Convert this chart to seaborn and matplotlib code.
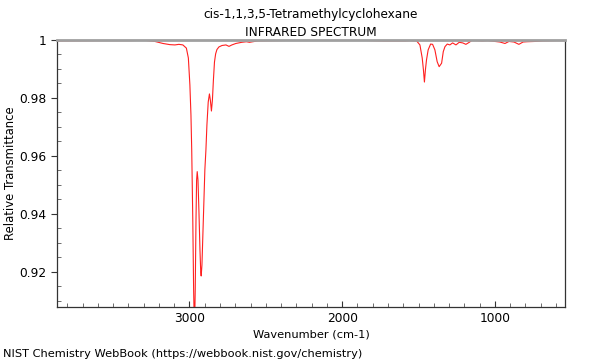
"""
IR spectrum of cis-1,1,3,5-tetramethylcyclohexane, redrawn from the NIST WebBook plot.
"""

import matplotlib
matplotlib.use('Agg')
import matplotlib.pyplot as plt
from matplotlib.ticker import MultipleLocator
import pandas as pd
import seaborn as sns

# wavenumber (cm-1) and relative transmittance
wavenumber = [3867, 3586, 3390, 3291, 3226, 3173, 3128, 3095, 3069, 3043,
              3020, 3007, 2997, 2990, 2985, 2978, 2972.5, 2967, 2962, 2957,
              2953, 2949, 2944, 2938, 2931, 2926, 2923, 2918, 2912, 2905,
              2899, 2892, 2885.5, 2877, 2869, 2863, 2856, 2849.5, 2843, 2836,
              2828.5, 2820, 2807, 2787, 2761, 2741, 2722, 2696, 2658, 2627,
              2607, 2552, 2440, 2277, 2080, 1884, 1720, 1589, 1556, 1513,
              1491, 1476, 1468, 1461.5, 1455, 1448, 1437, 1421, 1408, 1393,
              1378, 1365, 1349, 1338, 1327, 1312, 1295, 1277, 1255, 1234,
              1211, 1190, 1168, 1152, 1118, 1085, 1046, 1000, 967, 934,
              908, 875, 843, 816, 790, 738, 685, 600, 541]
transmittance = [0.9997, 0.9998, 0.9998, 0.9999, 0.9995, 0.9988, 0.9984, 0.9983, 0.9985, 0.9983,
                 0.9972, 0.9938, 0.9845, 0.9741, 0.9621, 0.9379, 0.9138, 0.8990, 0.9138, 0.9380,
                 0.9517, 0.9546, 0.9517, 0.9414, 0.9276, 0.9200, 0.9186, 0.9224, 0.9328, 0.9448,
                 0.9552, 0.9621, 0.9707, 0.9786, 0.9814, 0.9793, 0.9755, 0.9793, 0.9862, 0.9924,
                 0.9952, 0.9967, 0.9976, 0.9981, 0.9983, 0.9978, 0.9983, 0.9988, 0.9992, 0.9994,
                 0.9992, 0.9997, 0.9998, 0.9999, 1.0000, 0.9999, 0.9997, 0.9997, 0.9998, 0.9997,
                 0.9983, 0.9938, 0.9897, 0.9855, 0.9897, 0.9931, 0.9966, 0.9986, 0.9985, 0.9966,
                 0.9925, 0.9908, 0.9920, 0.9960, 0.9977, 0.9986, 0.9983, 0.9990, 0.9983, 0.9992,
                 0.9990, 0.9985, 0.9992, 0.9998, 0.9998, 0.9997, 0.9998, 0.9995, 0.9993, 0.9988,
                 0.9995, 0.9993, 0.9985, 0.9993, 0.9994, 0.9995, 0.9997, 0.9998, 0.9998]

x_ticks = [3000, 2000, 1000]
y_ticks = [0.92, 0.94, 0.96, 0.98, 1.0]
y_tick_labels = ['0.92', '0.94', '0.96', '0.98', '1']

sns.set_style('ticks')
plt.rcParams['font.family'] = ['DejaVu Sans']
plt.rcParams['text.color'] = 'black'
plt.rcParams['axes.labelcolor'] = 'black'
plt.rcParams['xtick.labelcolor'] = 'black'
plt.rcParams['ytick.labelcolor'] = 'black'

spectrum = pd.DataFrame({'wavenumber': wavenumber, 'transmittance': transmittance})

figure = plt.figure(figsize=(6, 3.6), dpi=100)
axes = figure.add_axes([0.095, 0.1472, 0.8467, 0.7417])

sns.lineplot(data=spectrum, x='wavenumber', y='transmittance', sort=False,
             color='#ff2020', linewidth=0.8, ax=axes)

axes.set_xlim(3867, 541)
axes.set_ylim(0.9079, 1.0)

axes.set_xticks(x_ticks)
axes.set_yticks(y_ticks)
axes.set_yticklabels(y_tick_labels)
axes.xaxis.set_minor_locator(MultipleLocator(100))
axes.yaxis.set_minor_locator(MultipleLocator(0.005))
axes.tick_params(axis='both', which='major', labelsize=8.8, length=4, width=0.8,
                 color='#333333', labelcolor='black')
axes.tick_params(axis='x', which='both', direction='in')
axes.tick_params(axis='y', which='major', direction='out')
axes.tick_params(axis='y', which='minor', direction='in')
axes.tick_params(which='minor', length=3, width=0.6, color='#555555')

for side in ['left', 'bottom', 'right']:
    axes.spines[side].set_color('#333333')
    axes.spines[side].set_linewidth(0.9)
axes.spines['top'].set_color('#a0a0a0')
axes.spines['top'].set_linewidth(2)

axes.set_xlabel('Wavenumber (cm-1)', fontsize=8.2, labelpad=3)
axes.set_ylabel('Relative Transmittance', fontsize=8.4)
axes.yaxis.set_label_coords(-0.079, 0.5)
axes.set_title('cis-1,1,3,5-Tetramethylcyclohexane\nINFRARED SPECTRUM', fontsize=8.7,
               linespacing=1.5, pad=3)

figure.text(0.005, 0.002, 'NIST Chemistry WebBook (https://webbook.nist.gov/chemistry)',
            fontsize=8.2, ha='left', va='bottom')

figure.savefig('out.png', dpi=100)
